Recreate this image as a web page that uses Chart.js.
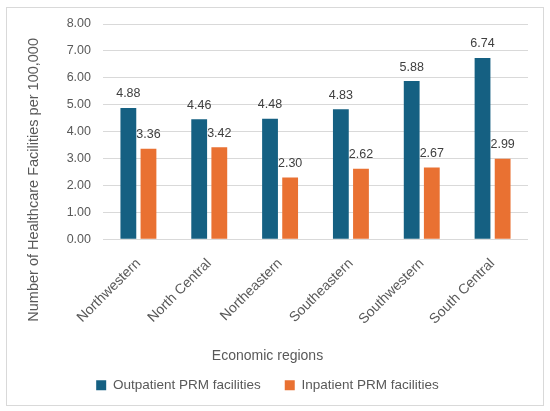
<!DOCTYPE html>
<html>
<head>
<meta charset="utf-8">
<script src="https://cdn.jsdelivr.net/npm/chart.js@4.4.0/dist/chart.umd.min.js"></script>
<style>
  html, body { margin: 0; padding: 0; background: #fff; }
  #frame { position: absolute; left: 6px; top: 7px; width: 536px; height: 397px; border: 1px solid #d9d9d9; }
  canvas { display: block; }
</style>
</head>
<body>
<div id="frame"><canvas id="chart" width="536" height="397"></canvas></div>
<script>
// Chart data
const regions = ['Northwestern', 'North Central', 'Northeastern', 'Southeastern', 'Southwestern', 'South Central'];
const outpatient = [4.88, 4.46, 4.48, 4.83, 5.88, 6.74];
const inpatient = [3.36, 3.42, 2.30, 2.62, 2.67, 2.99];
const seriesNames = ['Outpatient PRM facilities', 'Inpatient PRM facilities'];
const yMin = 0, yMax = 8, yStep = 1;

const FONT = '"Liberation Sans", Arial, sans-serif';
const GREY = '#595959';

// Value labels above each bar
const barLabels = {
  id: 'barLabels',
  afterDatasetsDraw(chart) {
    const ctx = chart.ctx;
    ctx.save();
    ctx.font = '12.5px ' + FONT;
    ctx.fillStyle = '#404040';
    ctx.textAlign = 'center';
    ctx.textBaseline = 'alphabetic';
    chart.data.datasets.forEach((ds, i) => {
      chart.getDatasetMeta(i).data.forEach((bar, j) => {
        ctx.fillText(ds.data[j].toFixed(2), bar.x, bar.y - 10.5);
      });
    });
    ctx.restore();
  }
};

// Y axis title, centred on plot area plus category labels (like Excel)
const yTitle = {
  id: 'yTitle',
  afterDraw(chart) {
    const ctx = chart.ctx;
    const cy = (chart.chartArea.top + chart.scales.x.bottom) / 2;
    ctx.save();
    ctx.translate(26.5, cy);
    ctx.rotate(-Math.PI / 2);
    ctx.font = '14.5px ' + FONT;
    ctx.fillStyle = GREY;
    ctx.textAlign = 'center';
    ctx.textBaseline = 'middle';
    ctx.fillText('Number of Healthcare Facilities per 100,000', 0, 0);
    ctx.restore();
  }
};

const ctx = document.getElementById('chart').getContext('2d');
new Chart(ctx, {
  type: 'bar',
  data: {
    labels: regions,
    datasets: [{
      label: seriesNames[0],
      data: outpatient,
      backgroundColor: '#156082'
    }, {
      label: seriesNames[1],
      data: inpatient,
      backgroundColor: '#E97132'
    }]
  },
  options: {
    responsive: false,
    animation: false,
    categoryPercentage: 0.568,
    barPercentage: 0.786,
    layout: { padding: { top: 16, right: 15, bottom: 3, left: 0 } },
    scales: {
      x: {
        grid: { display: false },
        border: { display: false },
        ticks: {
          color: GREY,
          font: { family: FONT, size: 14 },
          maxRotation: 45,
          minRotation: 45,
          padding: 8
        }
      },
      y: {
        min: yMin,
        max: yMax,
        afterFit(scale) { scale.width = 96; },
        grid: { color: '#d9d9d9', tickLength: 12, tickColor: 'rgba(0,0,0,0)' },
        border: { display: false },
        ticks: {
          stepSize: yStep,
          color: GREY,
          font: { family: FONT, size: 12.5 },
          padding: 0,
          callback: v => v.toFixed(2)
        }
      }
    },
    plugins: {
      legend: {
        position: 'bottom',
        labels: {
          boxWidth: 10,
          boxHeight: 10,
          padding: 24,
          color: GREY,
          font: { family: FONT, size: 13.5 }
        }
      },
      title: {
        display: true,
        text: 'Economic regions',
        position: 'bottom',
        weight: 500,
        color: GREY,
        font: { family: FONT, size: 14, weight: 'normal' },
        padding: { top: 12, bottom: -10 }
      },
      tooltip: { enabled: false }
    }
  },
  plugins: [barLabels, yTitle]
});
</script>
</body>
</html>
